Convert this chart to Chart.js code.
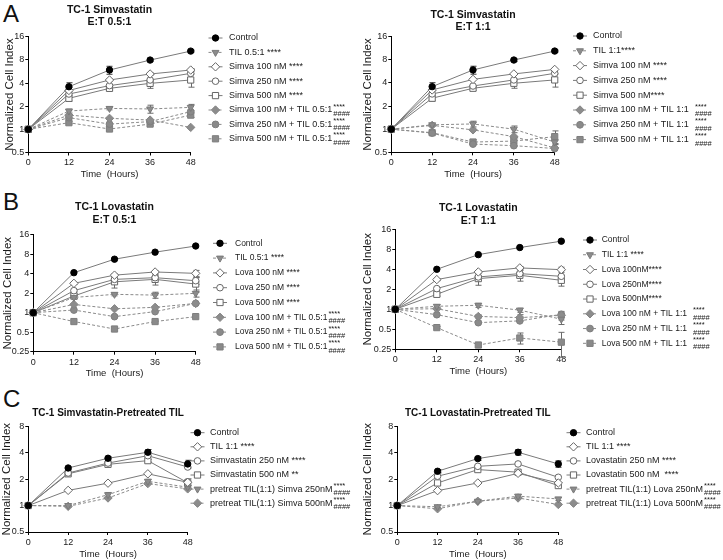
<!DOCTYPE html>
<html><head><meta charset="utf-8">
<script src="https://cdn.jsdelivr.net/npm/chart.js"></script>
<style>
html,body{margin:0;padding:0;background:#fff;}
body{width:723px;height:560px;position:relative;overflow:hidden;font-family:'Liberation Sans',Arial,sans-serif;}
canvas{position:absolute;}
.letter{position:absolute;font-size:24px;color:#111;line-height:1;}
</style></head><body>
<div class="letter" style="left:3px;top:2px">A</div>
<div class="letter" style="left:3px;top:190px">B</div>
<div class="letter" style="left:3px;top:387px">C</div>
<canvas id="cA1" width="360" height="190" style="left:0;top:0"></canvas>
<canvas id="cA2" width="363" height="190" style="left:360px;top:0"></canvas>
<canvas id="cB1" width="360" height="194" style="left:0;top:195px"></canvas>
<canvas id="cB2" width="363" height="192" style="left:360px;top:195px"></canvas>
<canvas id="cC1" width="360" height="180" style="left:0;top:390px"></canvas>
<canvas id="cC2" width="363" height="180" style="left:360px;top:390px"></canvas>
<script>
const FONT = "'Liberation Sans', Arial, Helvetica, sans-serif";
const hours = [0, 12, 24, 36, 48];
const yTicksA = [0.5, 1, 2, 4, 8, 16];
const yTicksB = [0.25, 0.5, 1, 2, 4, 8, 16];
const yTicksC = [0.5, 1, 2, 4, 8];

// ---- Panel A left: TC-1 Simvastatin E:T 0.5:1
const a1Control = [1, 3.58, 5.9, 7.95, 10.4];
const a1Til = [1, 1.73, 1.87, 1.84, 1.93];
const a1Simva100 = [1, 3.2, 4.38, 5.24, 5.9];
const a1Simva250 = [1, 2.88, 3.7, 4.38, 5.34];
const a1Simva500 = [1, 2.53, 3.41, 3.96, 4.38];
const a1Simva100Til = [1, 1.53, 1.39, 1.32, 1.06];
const a1Simva250Til = [1, 1.42, 1.17, 1.26, 1.7];
const a1Simva500Til = [1, 1.22, 1.01, 1.17, 1.53];
const a1ControlErr = [0, 0.45, 0.7, 0.35, 0.3];
const a1TilErr = [0, 0.1, 0.08, 0.22, 0.18];
const a1Simva100Err = [0, 0.3, 0.15, 0.2, 0.25];
const a1Simva500Err = [0, 0.2, 0.2, 0.55, 0.85];
const a1Simva500TilErr = [0, 0.04, 0.04, 0.06, 0.1];
const a1Labels = ['Control', 'TIL 0.5:1 ****', 'Simva 100 nM ****', 'Simva 250 nM ****', 'Simva 500 nM ****',
  'Simva 100 nM + TIL 0.5:1', 'Simva 250 nM + TIL 0.5:1', 'Simva 500 nM + TIL 0.5:1'];

// ---- Panel A right: TC-1 Simvastatin E:T 1:1
const a2Control = [1, 3.58, 5.9, 7.95, 10.4];
const a2Til = [1, 1.14, 1.17, 1.0, 0.68];
const a2Simva100 = [1, 3.24, 4.45, 5.24, 6.0];
const a2Simva250 = [1, 2.88, 3.65, 4.38, 5.34];
const a2Simva500 = [1, 2.53, 3.41, 3.96, 4.38];
const a2Simva100Til = [1, 1.12, 0.98, 0.8, 0.57];
const a2Simva250Til = [1, 0.89, 0.64, 0.61, 0.56];
const a2Simva500Til = [1, 0.9, 0.68, 0.7, 0.8];
const a2ControlErr = [0, 0.45, 0.7, 0.35, 0.3];
const a2TilErr = [0, 0.04, 0.1, 0.1, 0.05];
const a2Simva500Err = [0, 0.2, 0.2, 0.55, 0.85];
const a2Simva500TilErr = [0, 0.03, 0.05, 0.1, 0.15];
const a2Labels = ['Control', 'TIL 1:1****', 'Simva 100 nM ****', 'Simva 250 nM ****', 'Simva 500 nM****',
  'Simva 100 nM + TIL 1:1', 'Simva 250 nM + TIL 1:1', 'Simva 500 nM + TIL 1:1'];

// ---- Panel B left: TC-1 Lovastatin E:T 0.5:1
const b1Control = [1, 4.15, 6.7, 8.6, 10.7];
const b1Til = [1, 1.72, 1.92, 1.87, 1.99];
const b1Lova100 = [1, 2.84, 3.8, 4.25, 4.05];
const b1Lova250 = [1, 2.19, 3.27, 3.47, 3.12];
const b1Lova500 = [1, 1.81, 3.0, 3.27, 2.77];
const b1Lova100Til = [1, 1.34, 1.15, 1.21, 1.39];
const b1Lova250Til = [1, 1.1, 0.87, 1.04, 1.39];
const b1Lova500Til = [1, 0.73, 0.56, 0.73, 0.87];
const b1TilErr = [0, 0.1, 0.1, 0.2, 0.25];
const b1Lova100Err = [0, 0.1, 0.2, 0.2, 0.45];
const b1Lova250Err = [0, 0.1, 0.3, 0.3, 0.4];
const b1Lova500Err = [0, 0.15, 0.6, 0.6, 0.7];
const b1Labels = ['Control', 'TIL 0.5:1 ****', 'Lova 100 nM ****', 'Lova 250 nM ****', 'Lova 500 nM ****',
  'Lova 100 nM + TIL 0.5:1', 'Lova 250 nM + TIL 0.5:1', 'Lova 500 nM + TIL 0.5:1'];

// ---- Panel B right: TC-1 Lovastatin E:T 1:1
const b2Control = [1, 4.0, 6.65, 8.5, 10.6];
const b2Til = [1, 1.11, 1.15, 0.97, 0.71];
const b2Lova100 = [1, 2.8, 3.65, 4.2, 3.95];
const b2Lova250 = [1, 2.05, 3.07, 3.44, 3.14];
const b2Lova500 = [1, 1.68, 2.9, 3.25, 2.73];
const b2Lova100Til = [1, 1.02, 0.78, 0.75, 0.81];
const b2Lova250Til = [1, 0.83, 0.63, 0.67, 0.84];
const b2Lova500Til = [1, 0.53, 0.29, 0.37, 0.32];
const b2TilErr = [0, 0.06, 0.08, 0.07, 0.12];
const b2Lova100Err = [0, 0.1, 0.15, 0.2, 0.35];
const b2Lova500Err = [0, 0.1, 0.6, 0.6, 0.5];
const b2Lova100TilErr = [0, 0.03, 0.05, 0.08, 0.12];
const b2Lova500TilErr = [0, 0.02, 0.02, 0.07, 0.13];
const b2Labels = ['Control', 'TIL 1:1 ****', 'Lova 100nM****', 'Lova 250nM****', 'Lova 500nM****',
  'Lova 100 nM + TIL 1:1', 'Lova 250 nM + TIL 1:1', 'Lova 500 nM + TIL 1:1'];

// ---- Panel C left: TC-1 Simvastatin-Pretreated TIL
const c1Control = [1, 2.68, 3.46, 4.05, 2.98];
const c1Til = [1, 1.49, 1.8, 2.3, 1.84];
const c1Simva250 = [1, 2.35, 3.05, 3.7, 2.75];
const c1Simva500 = [1, 2.3, 2.95, 3.25, 1.82];
const c1Pre250 = [1, 1.0, 1.33, 1.89, 1.62];
const c1Pre500 = [1, 0.98, 1.22, 1.78, 1.55];
const c1ControlErr = [0, 0.1, 0.15, 0.3, 0.3];
const c1Simva500Err = [0, 0.05, 0.1, 0.1, 0.2];
const c1Pre250Err = [0, 0.04, 0.08, 0.1, 0.06];
const c1Labels = ['Control', 'TIL 1:1 ****', 'Simvastatin 250 nM ****', 'Simvastatin 500 nM **',
  'pretreat TIL(1:1) Simva 250nM', 'pretreat TIL(1:1) Simva 500nM'];

// ---- Panel C right: TC-1 Lovastatin-Pretreated TIL
const c2Control = [1, 2.46, 3.43, 4.05, 2.98];
const c2Til = [1, 1.48, 1.81, 2.33, 1.81];
const c2Lova250 = [1, 2.16, 2.8, 2.98, 2.1];
const c2Lova500 = [1, 1.81, 2.57, 2.4, 1.69];
const c2Pre250 = [1, 0.97, 1.12, 1.28, 1.19];
const c2Pre500 = [1, 0.92, 1.12, 1.22, 1.03];
const c2ControlErr = [0, 0.1, 0.15, 0.3, 0.25];
const c2Pre250Err = [0, 0.04, 0.03, 0.06, 0.05];
const c2Labels = ['Control', 'TIL 1:1 ****', 'Lovastatin 250 nM ****', 'Lovastatin 500 nM  ****',
  'pretreat TIL(1:1) Lova 250nM', 'pretreat TIL(1:1) Lova 500nM'];

// significance annotations stacked after legend labels
const sigTop8 = ['', '', '', '', '', '****', '****', '****'];
const sigBot8 = ['', '', '', '', '', '####', '####', '####'];
const sigTop6 = ['', '', '', '', '****', '****'];
const sigBot6 = ['', '', '', '', '####', '####'];

// ---- marker styles
const ST = {
  control: {ps: 'circle', r: 3.2, fill: '#000', stroke: '#000', line: '#7a7a7a', dash: []},
  til: {ps: 'triangle', r: 4, rot: 180, fill: '#8c8c8c', stroke: '#7a7a7a', line: '#8a8a8a', dash: [3, 2]},
  oDiamond: {ps: 'rectRot', r: 4.2, fill: '#fff', stroke: '#666', line: '#7a7a7a', dash: []},
  oCircle: {ps: 'circle', r: 3.3, fill: '#fff', stroke: '#666', line: '#7a7a7a', dash: []},
  oSquare: {ps: 'rect', r: 4.4, fill: '#fff', stroke: '#666', line: '#7a7a7a', dash: []},
  gDiamond: {ps: 'rectRot', r: 4.2, fill: '#8c8c8c', stroke: '#858585', line: '#8a8a8a', dash: [3, 2]},
  gCircle: {ps: 'circle', r: 3.4, fill: '#8a8a8a', stroke: '#7e7e7e', line: '#8a8a8a', dash: [3, 2]},
  gSquare: {ps: 'rect', r: 4.4, fill: '#8a8a8a', stroke: '#7e7e7e', line: '#8a8a8a', dash: [3, 2]}
};

function ds(label, values, err, st) {
  return {
    label: label,
    data: hours.map((h, i) => ({x: h, y: values[i]})),
    errors: err || null,
    legendStyle: st,
    borderColor: st.line, borderWidth: 1, borderDash: st.dash,
    pointStyle: st.ps, pointRadius: st.r, pointHoverRadius: st.r, pointRotation: st.rot || 0,
    pointBackgroundColor: st.fill, pointBorderColor: st.stroke, pointBorderWidth: 1,
    fill: false, tension: 0, clip: false
  };
}

const META = {};

const panelPlugin = {
  id: 'panelDecor',
  beforeDatasetsDraw(chart) {
    const ctx = chart.ctx, xs = chart.scales.x, ys = chart.scales.y;
    chart.data.datasets.forEach(d => {
      if (!d.errors) return;
      ctx.save();
      ctx.strokeStyle = d.legendStyle.stroke === '#000' ? '#333' : '#6a6a6a';
      ctx.lineWidth = 1; ctx.setLineDash([]);
      d.errors.forEach((e, j) => {
        if (!e) return;
        const v = d.data[j].y;
        const x = Math.round(xs.getPixelForValue(d.data[j].x)) + 0.5;
        const yt = ys.getPixelForValue(v + e);
        const yb = ys.getPixelForValue(Math.max(v - e, 0.01));
        ctx.beginPath();
        ctx.moveTo(x, yt); ctx.lineTo(x, yb);
        ctx.moveTo(x - 3, yt); ctx.lineTo(x + 3, yt);
        ctx.moveTo(x - 3, yb); ctx.lineTo(x + 3, yb);
        ctx.stroke();
      });
      ctx.restore();
    });
  },
  afterDraw(chart) {
    const m = META[chart.canvas.id];
    if (!m) return;
    const ctx = chart.ctx, ca = chart.chartArea;
    ctx.save();
    // title
    ctx.fillStyle = '#111';
    ctx.textAlign = 'center'; ctx.textBaseline = 'middle';
    ctx.font = 'bold ' + m.titleSize + 'px ' + FONT;
    const cx = (ca.left + ca.right) / 2;
    m.title.forEach((t, i) => ctx.fillText(t, cx, m.titleY[i]));
    // legend
    const L = m.legend;
    chart.data.datasets.forEach((d, i) => {
      const y = L.y0 + i * L.gap;
      const st = d.legendStyle;
      ctx.save();
      ctx.strokeStyle = st.line; ctx.lineWidth = 1; ctx.setLineDash(st.dash);
      ctx.beginPath(); ctx.moveTo(L.mx - 7, y); ctx.lineTo(L.mx + 7, y); ctx.stroke();
      ctx.setLineDash([]);
      ctx.fillStyle = st.fill; ctx.strokeStyle = st.stroke; ctx.lineWidth = 1;
      Chart.helpers.drawPoint(ctx, {pointStyle: st.ps, radius: st.r, rotation: st.rot || 0, borderWidth: 1}, L.mx, y);
      ctx.restore();
      ctx.fillStyle = '#1a1a1a';
      ctx.textAlign = 'left'; ctx.textBaseline = 'middle';
      ctx.font = L.size + 'px ' + FONT;
      ctx.fillText(d.label, L.tx, y);
      const top = L.sigTop[i], bot = L.sigBot[i];
      if (top || bot) {
        const w = ctx.measureText(d.label).width;
        const sx = Math.max(L.sx, L.tx + w + 1);
        ctx.font = '7.5px ' + FONT;
        ctx.fillText(top, sx, y - 3.5);
        ctx.fillText(bot, sx, y + 4);
      }
    });
    ctx.restore();
  }
};

function makePanel(id, geom, title, titleY, titleSize, yTicks, datasets, legend) {
  const canvas = document.getElementById(id);
  const W = canvas.width, H = canvas.height;
  const xH = H - geom.bottom;
  const yTitleSize = 11.5, xTitleSize = 9.5;
  META[id] = {title: title, titleY: titleY, titleSize: titleSize, legend: legend};
  return new Chart(canvas, {
    type: 'line',
    data: {datasets: datasets},
    options: {
      responsive: false, animation: false, devicePixelRatio: 1,
      layout: {padding: {left: 0, top: geom.top, right: W - geom.right, bottom: 0}},
      plugins: {legend: {display: false}, title: {display: false}, tooltip: {enabled: false}},
      events: [],
      scales: {
        x: {
          type: 'linear', min: 0, max: 48,
          afterBuildTicks: s => { s.ticks = hours.map(v => ({value: v})); },
          ticks: {font: {size: 9, family: FONT}, color: '#1a1a1a', padding: 2, maxRotation: 0, autoSkip: false},
          grid: {drawOnChartArea: false, drawTicks: true, tickLength: 3, color: '#000'},
          border: {display: true, color: '#000', width: 1},
          title: {display: true, text: 'Time  (Hours)', color: '#1a1a1a', font: {size: xTitleSize, family: FONT},
            padding: {top: 0, bottom: xH - 22 - xTitleSize * 0.6}},
          afterFit: s => { s.height = xH; }
        },
        y: {
          type: 'logarithmic', min: yTicks[0], max: yTicks[yTicks.length - 1],
          afterBuildTicks: s => { s.ticks = yTicks.map(v => ({value: v})); },
          ticks: {font: {size: 9, family: FONT}, color: '#1a1a1a', padding: 1, autoSkip: false,
            callback: v => String(v)},
          grid: {drawOnChartArea: false, drawTicks: true, tickLength: 3, color: '#000'},
          border: {display: true, color: '#000', width: 1},
          title: {display: true, text: 'Normalized Cell Index', color: '#1a1a1a', font: {size: yTitleSize, family: FONT},
            padding: {top: Math.max(0, geom.ytc - yTitleSize * 0.6), bottom: 0}},
          afterFit: s => { s.width = geom.left; }
        }
      }
    },
    plugins: [panelPlugin]
  });
}

makePanel('cA1', {top: 36.7, bottom: 152.5, left: 28.3, right: 190.7, ytc: 10},
  ['TC-1 Simvastatin', 'E:T 0.5:1'], [10, 22.5], 10.5, yTicksA, [
    ds(a1Labels[0], a1Control, a1ControlErr, ST.control),
    ds(a1Labels[1], a1Til, a1TilErr, ST.til),
    ds(a1Labels[2], a1Simva100, a1Simva100Err, ST.oDiamond),
    ds(a1Labels[3], a1Simva250, null, ST.oCircle),
    ds(a1Labels[4], a1Simva500, a1Simva500Err, ST.oSquare),
    ds(a1Labels[5], a1Simva100Til, null, ST.gDiamond),
    ds(a1Labels[6], a1Simva250Til, null, ST.gCircle),
    ds(a1Labels[7], a1Simva500Til, a1Simva500TilErr, ST.gSquare)
  ], {mx: 215.5, tx: 229, y0: 38, gap: 14.4, sx: 331, size: 9, sigTop: sigTop8, sigBot: sigBot8});

makePanel('cA2', {top: 36.7, bottom: 152.3, left: 31.3, right: 194.7, ytc: 7.5},
  ['TC-1 Simvastatin', 'E:T 1:1'], [15, 27.5], 10.5, yTicksA, [
    ds(a2Labels[0], a2Control, a2ControlErr, ST.control),
    ds(a2Labels[1], a2Til, a2TilErr, ST.til),
    ds(a2Labels[2], a2Simva100, null, ST.oDiamond),
    ds(a2Labels[3], a2Simva250, null, ST.oCircle),
    ds(a2Labels[4], a2Simva500, a2Simva500Err, ST.oSquare),
    ds(a2Labels[5], a2Simva100Til, null, ST.gDiamond),
    ds(a2Labels[6], a2Simva250Til, null, ST.gCircle),
    ds(a2Labels[7], a2Simva500Til, a2Simva500TilErr, ST.gSquare)
  ], {mx: 220, tx: 233, y0: 36, gap: 14.8, sx: 335, size: 9, sigTop: sigTop8, sigBot: sigBot8});

makePanel('cB1', {top: 39.7, bottom: 156.7, left: 33.3, right: 195.7, ytc: 7.5},
  ['TC-1 Lovastatin', 'E:T 0.5:1'], [12, 25], 10.5, yTicksB, [
    ds(b1Labels[0], b1Control, null, ST.control),
    ds(b1Labels[1], b1Til, b1TilErr, ST.til),
    ds(b1Labels[2], b1Lova100, b1Lova100Err, ST.oDiamond),
    ds(b1Labels[3], b1Lova250, b1Lova250Err, ST.oCircle),
    ds(b1Labels[4], b1Lova500, b1Lova500Err, ST.oSquare),
    ds(b1Labels[5], b1Lova100Til, null, ST.gDiamond),
    ds(b1Labels[6], b1Lova250Til, null, ST.gCircle),
    ds(b1Labels[7], b1Lova500Til, null, ST.gSquare)
  ], {mx: 220, tx: 235, y0: 48.3, gap: 14.8, sx: 328, size: 8.5, sigTop: sigTop8, sigBot: sigBot8});

makePanel('cB2', {top: 34.3, bottom: 154.3, left: 35.3, right: 201.3, ytc: 8.3},
  ['TC-1 Lovastatin', 'E:T 1:1'], [13, 26], 10.5, yTicksB, [
    ds(b2Labels[0], b2Control, null, ST.control),
    ds(b2Labels[1], b2Til, b2TilErr, ST.til),
    ds(b2Labels[2], b2Lova100, b2Lova100Err, ST.oDiamond),
    ds(b2Labels[3], b2Lova250, null, ST.oCircle),
    ds(b2Labels[4], b2Lova500, b2Lova500Err, ST.oSquare),
    ds(b2Labels[5], b2Lova100Til, b2Lova100TilErr, ST.gDiamond),
    ds(b2Labels[6], b2Lova250Til, null, ST.gCircle),
    ds(b2Labels[7], b2Lova500Til, b2Lova500TilErr, ST.gSquare)
  ], {mx: 230, tx: 241.7, y0: 45, gap: 14.76, sx: 333, size: 8.5, sigTop: sigTop8, sigBot: sigBot8});

makePanel('cC1', {top: 36.3, bottom: 142, left: 28.3, right: 187.7, ytc: 7},
  ['TC-1 Simvastatin-Pretreated TIL'], [23.3], 10, yTicksC, [
    ds(c1Labels[0], c1Control, c1ControlErr, ST.control),
    ds(c1Labels[1], c1Til, null, ST.oDiamond),
    ds(c1Labels[2], c1Simva250, null, ST.oCircle),
    ds(c1Labels[3], c1Simva500, c1Simva500Err, ST.oSquare),
    ds(c1Labels[4], c1Pre250, c1Pre250Err, ST.til),
    ds(c1Labels[5], c1Pre500, null, ST.gDiamond)
  ], {mx: 197.5, tx: 210, y0: 42.7, gap: 14.1, sx: 333, size: 9, sigTop: sigTop6, sigBot: sigBot6});

makePanel('cC2', {top: 36.3, bottom: 142, left: 37.3, right: 198.3, ytc: 8.3},
  ['TC-1 Lovastatin-Pretreated TIL'], [23.3], 10, yTicksC, [
    ds(c2Labels[0], c2Control, c2ControlErr, ST.control),
    ds(c2Labels[1], c2Til, null, ST.oDiamond),
    ds(c2Labels[2], c2Lova250, null, ST.oCircle),
    ds(c2Labels[3], c2Lova500, null, ST.oSquare),
    ds(c2Labels[4], c2Pre250, c2Pre250Err, ST.til),
    ds(c2Labels[5], c2Pre500, null, ST.gDiamond)
  ], {mx: 213.5, tx: 226, y0: 42.7, gap: 14.1, sx: 343, size: 9, sigTop: sigTop6, sigBot: sigBot6});
</script>
</body></html>
